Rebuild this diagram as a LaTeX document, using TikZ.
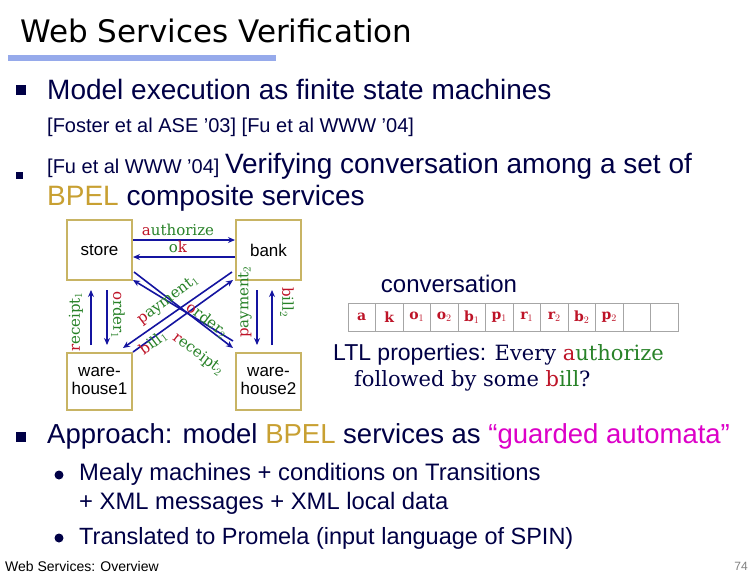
\documentclass[tikz,border=0pt]{standalone}
\usepackage{fontspec}
\setmainfont{Liberation Sans}
\newfontfamily\titlefont{DejaVu Sans}
\newfontfamily\serf{Liberation Serif}
\newfontfamily\dserf{DejaVu Serif}
\usetikzlibrary{arrows.meta}
\definecolor{navy}{RGB}{0,0,70}
\definecolor{gold}{RGB}{200,160,50}
\definecolor{boxc}{RGB}{200,180,100}
\definecolor{arr}{RGB}{20,20,160}
\definecolor{lred}{RGB}{190,20,40}
\definecolor{lgreen}{RGB}{40,130,40}
\definecolor{mag}{RGB}{220,0,200}
\definecolor{rule}{RGB}{150,170,235}
\begin{document}
\begin{tikzpicture}[x=1pt,y=-1pt,
  every node/.style={inner sep=0pt},
  comp/.style={draw=boxc,line width=2pt,minimum width=65pt,align=center,font=\fontsize{17}{18}\selectfont},
  msg/.style={arr,line width=1.6pt,-{Stealth[length=7pt,width=6pt]}},
  lab/.style={font=\dserf\fontsize{15}{16}\selectfont,lgreen},
  sqb/.style={fill=navy,minimum size=10pt},
  cell/.style={draw=gray!70,minimum width=27.5pt,minimum height=28pt,font=\dserf\bfseries\fontsize{14}{15}\selectfont,text=lred}]
\useasboundingbox (0,0) rectangle (756,576);
\fill[white] (0,0) rectangle (756,576);
% title
\node[anchor=west,font=\titlefont\fontsize{31}{33}\selectfont] (title) at (20,31) {Web Services Verification};
\fill[rule] (8,55) rectangle (276,61);
% bullets
\node[sqb] (b1) at (21,90) {};
\node[anchor=west,navy,font=\fontsize{28}{30}\selectfont] (t1) at (47,89) {Model execution as finite state machines};
\node[anchor=west,navy,font=\fontsize{20}{22}\selectfont] (t1b) at (47,127) {[Foster et al ASE '03] [Fu et al WWW '04]};
\node[sqb,minimum size=7pt] (b2) at (19,175) {};
\node[anchor=base west,navy,font=\fontsize{28}{30}\selectfont] (t2) at (47,173) {\fontsize{20}{22}\selectfont[Fu et al WWW '04] \fontsize{28}{30}\selectfont Verifying conversation among a set of};
\node[anchor=base west,navy,font=\fontsize{28}{30}\selectfont] (t2b) at (47,205) {\textcolor{gold}{BPEL} composite services};
% components
\node[comp,minimum height=60pt] (store) at (99.5,250) {store};
\node[comp,minimum height=60pt] (bank) at (268.5,250) {bank};
\node[comp,minimum height=57pt] (wh1) at (99.5,381.5) {ware-\\house1};
\node[comp,minimum height=57pt] (wh2) at (268.5,381.5) {ware-\\house2};
% horizontal
\draw[msg] (store.east |- 0,240) -- (bank.west |- 0,240);
\draw[msg] (bank.west |- 0,257) -- (store.east |- 0,257);
\node[lab] (la) at (178,230) {\textcolor{lred}{a}uthorize};
\node[lab] (lo) at (178,247) {o\textcolor{lred}{k}};
% verticals
\draw[msg] (91,345) -- (91,290);
\draw[msg] (107,290) -- (107,345);
\draw[msg] (257,290) -- (257,345);
\draw[msg] (272,345) -- (272,290);
\node[lab,rotate=90] (lr1) at (76,322) {\textcolor{lred}{r}eceipt$_1$};
\node[lab,rotate=-90] (lo1) at (118,315) {\textcolor{lred}{o}rder$_1$};
\node[lab,rotate=90] (lp2) at (245,302) {\textcolor{lred}{p}ayment$_2$};
\node[lab,rotate=-90] (lb2) at (287,302) {\textcolor{lred}{b}ill$_2$};
% diagonals
\coordinate (s1) at (134,272); \coordinate (w21) at (233,348);
\coordinate (w22) at (233,341); \coordinate (s2) at (133,280);
\coordinate (k1) at (232,272); \coordinate (w11) at (123,348);
\coordinate (w12) at (133,352); \coordinate (k2) at (233,280);
\draw[msg] (s1) -- (w21);
\draw[msg] (w22) -- (s2);
\draw[msg] (k1) -- (w11);
\draw[msg] (w12) -- (k2);
\node[lab,rotate=37] (lp1) at (168,300) {\textcolor{lred}{p}ayment$_1$};
\node[lab,rotate=-37] (lo2) at (207,320) {\textcolor{lred}{o}rder$_2$};
\node[lab,rotate=37] (lb1) at (153,343) {\textcolor{lred}{b}ill$_1$};
\node[lab,rotate=-37] (lr2) at (198,354) {\textcolor{lred}{r}eceipt$_2$};
% conversation
\node[navy,font=\fontsize{24}{26}\selectfont] (conv) at (449,284) {conversation};
\foreach \t [count=\i] in {a,k,o$_1$,o$_2$,b$_1$,p$_1$,r$_1$,r$_2$,b$_2$,p$_2$,{},{}}
  \node[cell] (c\i) at (348+27.5*\i-13.75,317) {\t};
\node[navy,font=\fontsize{23}{25}\selectfont,anchor=base west] (ltl) at (333,360) {LTL properties: {\dserf\fontsize{21}{23}\selectfont Every \textcolor{lred}{a}\textcolor{lgreen}{uthorize}}};
\node[navy,font=\dserf\fontsize{21}{23}\selectfont,anchor=base west] (ltl2) at (354,386) {followed by some \textcolor{lred}{b}\textcolor{lgreen}{ill}?};
% approach
\node[sqb] (b3) at (21,437) {};
\node[anchor=west,navy,font=\fontsize{27.5}{29}\selectfont] (t3) at (47,436) {Approach: model \textcolor{gold}{BPEL} services as \textcolor{mag}{``guarded automata''}};
\fill[navy] (59,475) circle (4.5pt) coordinate (d1);
\node[anchor=west,navy,font=\fontsize{23.8}{25}\selectfont] (t4) at (79,474) {Mealy machines + conditions on Transitions};
\node[anchor=west,navy,font=\fontsize{23.8}{25}\selectfont] (t4b) at (79,503) {+ XML messages + XML local data};
\fill[navy] (59,538) circle (4.5pt) coordinate (d2);
\node[anchor=west,navy,font=\fontsize{23.5}{25}\selectfont] (t5) at (79,538) {Translated to Promela (input language of SPIN)};
\node[anchor=west,font=\fontsize{14}{15}\selectfont] (foot) at (5,566) {Web Services: Overview};
\node[anchor=east,font=\fontsize{12}{13}\selectfont,gray] (pg) at (748,566) {74};
\end{tikzpicture}
\end{document}
